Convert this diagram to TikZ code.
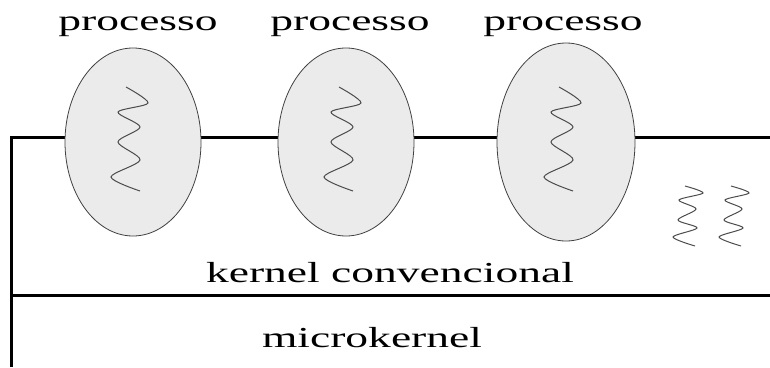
\documentclass[tikz,border=0pt]{standalone}
\usepackage{fontspec}
\newfontfamily\widefont[FakeStretch=1.57]{Liberation Serif}
\usetikzlibrary{shapes.geometric}

\begin{document}
\begin{tikzpicture}[x=1pt,y=-1pt,
  proc/.style={ellipse,draw=black!75,line width=0.8pt,fill=black!8,inner sep=0pt},
  layer/.style={line width=3pt},
  wave/.style={draw=black!70,line width=1pt},
  lab/.style={font=\widefont\fontsize{29}{32}\selectfont,anchor=base,inner sep=0pt}]
  \useasboundingbox (0,0) rectangle (770,367);
  \coordinate (tl) at (11,137);
  \coordinate (tr) at (770,137);
  \coordinate (ml) at (11,295);
  \coordinate (mr) at (770,295);
  \coordinate (bl) at (11,367);
  \draw[layer] (bl) -- (tl) -- (tr);
  \draw[layer] (ml) -- (mr);
  \foreach \x/\w/\h/\lx/\n in {133/136/188/138/p1,346/136/188/350/p2,566/138/198/563/p3}{
    \node[proc,minimum width=\w pt,minimum height=\h pt] (\n) at (\x,142) {};
    \draw[wave,shift={(\n.center)}] plot[smooth] coordinates
      {(-7,-55) (15,-39) (-15,-30) (7,-15) (-15,0) (7,18) (-22,35) (7,49)};
    \node[lab] (l\n) at (\lx,30) {processo};
  }
  % threads do kernel
  \foreach \x in {688,734}{
    \draw[wave,shift={(\x,216)}] plot[smooth] coordinates
      {(-3,-30) (15,-23) (-9,-16) (8,-7) (-10,4) (9,12) (-15,21) (7,30)};
  }
  \node[lab] (kc) at (390,282) {kernel convencional};
  \node[lab] (mk) at (372,347) {microkernel};
\end{tikzpicture}
\end{document}
